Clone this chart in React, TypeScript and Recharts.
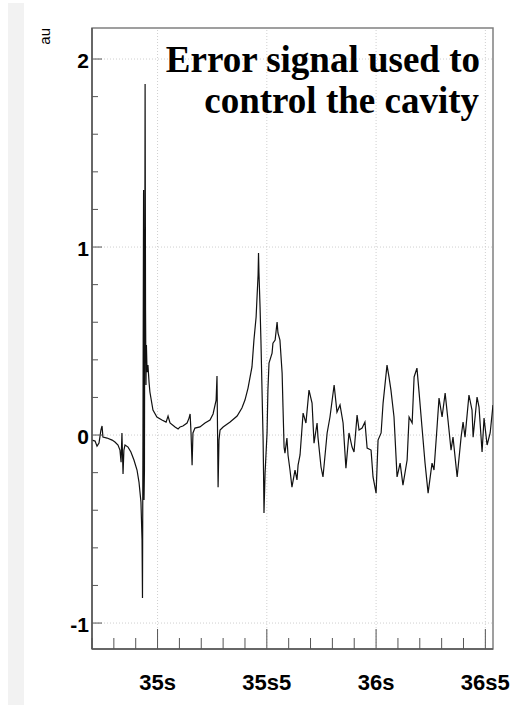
import { LineChart, Line, XAxis, YAxis, ReferenceLine, ReferenceArea } from "recharts";

// time in seconds, error signal in arbitrary units
const times = [
  34.7, 34.714, 34.723, 34.732, 34.741, 34.746, 34.75, 34.769, 34.792, 34.805,
  34.819, 34.828, 34.833, 34.837, 34.842, 34.846, 34.851, 34.865, 34.878, 34.892,
  34.906, 34.915, 34.924, 34.929, 34.931, 34.933, 34.936, 34.938, 34.94, 34.943,
  34.945, 34.947, 34.949, 34.952, 34.956, 34.961, 34.965, 34.979, 34.997, 35.02,
  35.039, 35.048, 35.057, 35.08, 35.094, 35.103, 35.116, 35.135, 35.144, 35.149,
  35.153, 35.158, 35.162, 35.171, 35.194, 35.217, 35.24, 35.254, 35.268, 35.272,
  35.277, 35.281, 35.286, 35.3, 35.332, 35.364, 35.386, 35.4, 35.414, 35.432,
  35.441, 35.451, 35.455, 35.46, 35.462, 35.464, 35.469, 35.473, 35.478, 35.483,
  35.485, 35.487, 35.492, 35.501, 35.505, 35.51, 35.524, 35.528, 35.538, 35.547,
  35.551, 35.56, 35.57, 35.574, 35.579, 35.583, 35.592, 35.597, 35.606, 35.615,
  35.629, 35.638, 35.643, 35.652, 35.666, 35.679, 35.693, 35.707, 35.716, 35.73,
  35.734, 35.748, 35.757, 35.776, 35.789, 35.808, 35.821, 35.835, 35.849, 35.862,
  35.876, 35.89, 35.899, 35.913, 35.922, 35.936, 35.949, 35.959, 35.977, 35.986,
  36.0, 36.009, 36.023, 36.032, 36.05, 36.059, 36.068, 36.082, 36.096, 36.11,
  36.123, 36.142, 36.151, 36.165, 36.174, 36.187, 36.197, 36.21, 36.224, 36.238,
  36.256, 36.265, 36.279, 36.288, 36.302, 36.316, 36.329, 36.343, 36.352, 36.371,
  36.389, 36.398, 36.407, 36.425, 36.439, 36.444, 36.462, 36.471, 36.485, 36.494,
  36.508, 36.522, 36.535,
];

const signal = [
  -0.027, -0.032, -0.059, -0.043, 0.027, 0.048, -0.011, -0.016, -0.027, -0.037,
  -0.053, -0.08, -0.144, 0.011, -0.207, -0.08, -0.053, -0.064, -0.09, -0.133,
  -0.186, -0.25, -0.356, -0.559, -0.867, -0.08, 1.303, -0.346, -0.186, 1.867,
  0.665, 0.266, 0.479, 0.335, 0.372, 0.282, 0.229, 0.133, 0.096, 0.08,
  0.069, 0.101, 0.064, 0.043, 0.032, 0.043, 0.048, 0.064, 0.09, 0.112,
  0.016, -0.16, 0.011, 0.037, 0.043, 0.064, 0.08, 0.112, 0.186, 0.314,
  -0.277, -0.027, 0.027, 0.043, 0.069, 0.101, 0.144, 0.186, 0.25, 0.362,
  0.505, 0.628, 0.729, 0.851, 0.968, 0.862, 0.681, 0.505, 0.239, -0.027,
  -0.202, -0.415, -0.202, 0.011, 0.239, 0.383, 0.436, 0.489, 0.505, 0.601,
  0.543, 0.505, 0.33, 0.149, -0.064, -0.096, -0.016, -0.106, -0.186, -0.277,
  -0.186, -0.239, -0.16, -0.106, 0.117, 0.064, 0.239, 0.17, -0.043, 0.064,
  -0.011, -0.17, -0.223, 0.011, 0.096, 0.266, 0.122, 0.16, 0.064, -0.176,
  0.011, -0.064, -0.09, 0.106, 0.027, 0.037, 0.069, -0.069, -0.08, -0.223,
  -0.309, -0.027, 0.011, 0.17, 0.372, 0.309, 0.239, 0.096, -0.223, -0.149,
  -0.266, -0.133, 0.096, 0.064, 0.309, 0.356, 0.223, 0.043, -0.149, -0.309,
  -0.149, -0.186, 0.043, 0.197, 0.096, 0.223, 0.08, -0.08, -0.011, -0.223,
  -0.011, 0.069, -0.011, 0.213, 0.133, -0.011, 0.202, 0.149, -0.09, 0.09,
  -0.053, 0.011, 0.16,
];

const xTicks = [34.7, 34.8, 34.9, 35, 35.1, 35.2, 35.3, 35.4, 35.5, 35.6, 35.7, 35.8, 35.9, 36, 36.1, 36.2, 36.3, 36.4, 36.5];
const xMajor = [35, 35.5, 36, 36.5];
const xLabels = ["35s", "35s5", "36s", "36s5"];
const yTicks = [-1, -0.8, -0.6, -0.4, -0.2, 0, 0.2, 0.4, 0.6, 0.8, 1, 1.2, 1.4, 1.6, 1.8, 2];
const yMajor = [-1, 0, 1, 2];

const X_DOMAIN: [number, number] = [34.7, 36.535];
const Y_DOMAIN: [number, number] = [-1.138, 2.165];

const data = times.map((t, i) => ({ t, v: signal[i] }));

const sans = "'Liberation Sans', Arial, sans-serif";
const axisColor = "#555";

const near = (a: number, b: number) => Math.abs(a - b) < 1e-6;

function XTick(props: any) {
  const { x, y, payload } = props;
  const idx = xMajor.findIndex((m) => near(m, payload.value));
  const major = idx >= 0;
  return (
    <g>
      <line x1={x} y1={y} x2={x} y2={y - (major ? 20 : 11)} stroke={axisColor} strokeWidth={1} />
      {major && (
        <text x={x} y={y + 41} textAnchor="middle" fontFamily={sans} fontWeight="bold" fontSize={22} fill="#000">
          {xLabels[idx]}
        </text>
      )}
    </g>
  );
}

function YTick(props: any) {
  const { x, y, payload } = props;
  const major = yMajor.some((m) => near(m, payload.value));
  return (
    <g>
      <line x1={x} y1={y} x2={x + (major ? 10 : 6)} y2={y} stroke={axisColor} strokeWidth={1} />
      {major && (
        <text x={x - 3} y={y + 9} textAnchor="end" fontFamily={sans} fontWeight="bold" fontSize={21} fill="#000">
          {payload.value}
        </text>
      )}
    </g>
  );
}

export default function App() {
  return (
    <div style={{ position: "absolute", left: 0, top: 0, width: 511, height: 705, background: "#fff" }}>
      <div style={{ position: "absolute", left: 8, top: 3, width: 16, height: 702, background: "#f2f2f2" }} />
      <div style={{ position: "absolute", left: 0, top: 0 }}>
        <LineChart width={511} height={705} data={data} margin={{ top: 28, right: 18, bottom: 0, left: 0 }}>
          <XAxis
            dataKey="t"
            type="number"
            domain={X_DOMAIN}
            allowDataOverflow
            ticks={xTicks}
            interval={0}
            height={56}
            tickSize={0}
            tickMargin={0}
            tick={(p: any) => <XTick {...p} />}
            axisLine={{ stroke: axisColor, strokeWidth: 1.5 }}
          />
          <YAxis
            type="number"
            domain={Y_DOMAIN}
            allowDataOverflow
            ticks={yTicks}
            interval={0}
            width={92}
            tickSize={0}
            tickMargin={0}
            tick={(p: any) => <YTick {...p} />}
            axisLine={{ stroke: axisColor, strokeWidth: 1.5 }}
          />
          {xMajor.map((m) => (
            <ReferenceLine key={"x" + m} x={m} stroke="#cfcfcf" strokeDasharray="1 2" />
          ))}
          {yMajor.map((m) => (
            <ReferenceLine key={"y" + m} y={m} stroke="#cfcfcf" strokeDasharray="1 2" />
          ))}
          <ReferenceArea
            x1={X_DOMAIN[0]}
            x2={X_DOMAIN[1]}
            y1={Y_DOMAIN[0]}
            y2={Y_DOMAIN[1]}
            fill="none"
            fillOpacity={0}
            stroke="#808080"
            strokeWidth={1.5}
          />
          <Line
            dataKey="v"
            type="linear"
            stroke="#111"
            strokeWidth={1.2}
            dot={false}
            isAnimationActive={false}
          />
        </LineChart>
      </div>
      <svg width={511} height={705} style={{ position: "absolute", left: 0, top: 0, pointerEvents: "none" }}>
        <text x={50} y={28} transform="rotate(-90 50 28)" textAnchor="end" fontFamily={sans} fontSize={15} fill="#000">
          au
        </text>
        <text textAnchor="end" fontFamily="'Liberation Serif', 'Times New Roman', serif" fontWeight="bold" fontSize={37} fill="#000">
          <tspan x={480} y={72}>Error signal used to</tspan>
          <tspan x={479} y={113}>control the cavity</tspan>
        </text>
      </svg>
    </div>
  );
}
